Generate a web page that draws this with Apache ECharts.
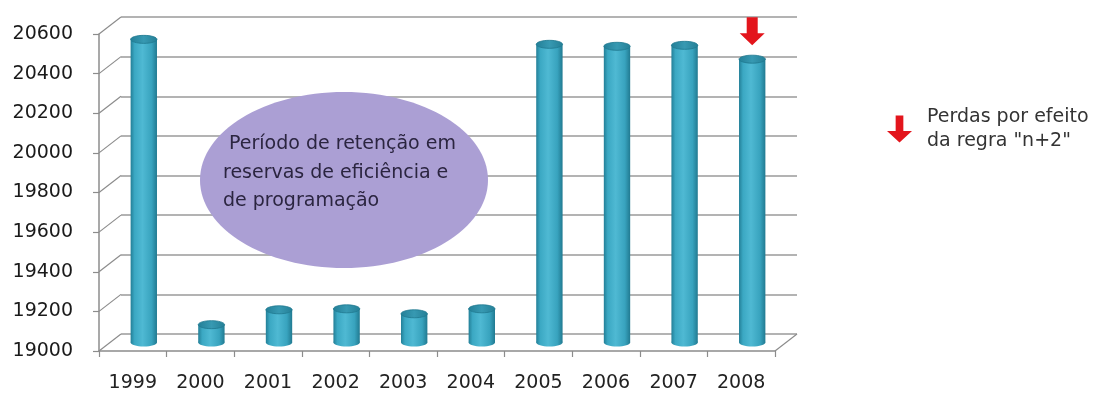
<!DOCTYPE html>
<html>
<head>
<meta charset="utf-8">
<script src="https://cdn.jsdelivr.net/npm/echarts@6/dist/echarts.min.js"></script>
<style>
  html, body { margin: 0; padding: 0; background: #ffffff; }
  #chart { width: 1097px; height: 399px; }
</style>
</head>
<body>
<div id="chart"></div>
<script>
// Annual values (thousands) with the retention period 2000-2004
const years = ['1999', '2000', '2001', '2002', '2003', '2004', '2005', '2006', '2007', '2008'];
const values = [20530, 19090, 19165, 19170, 19145, 19170, 20505, 20495, 20500, 20430];
const yTicks = [19000, 19200, 19400, 19600, 19800, 20000, 20200, 20400, 20600];
const lossYear = '2008';
const lossName = 'Perdas por efeito\nda regra "n+2"';
const noteText = ' Período de retenção em\nreservas de eficiência e\nde programação';

const Y_MIN = 19000, Y_MAX = 20600, Y_STEP = 200;

// Front plane of the pseudo-3D box, and its depth offset
const FRONT = { left: 99, top: 34, width: 676, height: 317 };
const DEPTH_X = 22, DEPTH_Y = 17;
const shifted = (f) => ({
  left: FRONT.left + DEPTH_X * f,
  top: FRONT.top - DEPTH_Y * f,
  width: FRONT.width,
  height: FRONT.height
});
const BACK = shifted(1);
const MID = shifted(0.5);

const FONT = 'DejaVu Sans';
const AXIS_GREY = '#8c8c8c';
const GRID_GREY = '#9a9a9a';

const chart = echarts.init(document.getElementById('chart'), null, { renderer: 'canvas' });

const valueAxis = (gridIndex, extra) => Object.assign({
  type: 'value', gridIndex, min: Y_MIN, max: Y_MAX, interval: Y_STEP
}, extra);

const catAxis = (gridIndex, extra) => Object.assign({
  type: 'category', gridIndex, data: years
}, extra);

// Cylinder body gradient (left dark edge, highlight, right dark edge)
const bodyFill = {
  type: 'linear', x: 0, y: 0, x2: 1, y2: 0,
  colorStops: [
    { offset: 0, color: '#237f97' },
    { offset: 0.15, color: '#3ba8c3' },
    { offset: 0.45, color: '#4fb9d3' },
    { offset: 0.8, color: '#38a3be' },
    { offset: 1, color: '#217a91' }
  ]
};
const capFill = {
  type: 'linear', x: 0, y: 0, x2: 1, y2: 0,
  colorStops: [
    { offset: 0, color: '#237f97' },
    { offset: 0.5, color: '#3799b2' },
    { offset: 1, color: '#247f96' }
  ]
};

function renderCylinder(params, api) {
  const idx = api.value(0);
  const top = api.coord([idx, api.value(1)]);
  const base = api.coord([idx, Y_MIN]);
  const w = api.size([1, 0])[0] * 0.39;
  const rx = w / 2, ry = 4;
  return {
    type: 'group',
    children: [
      { type: 'ellipse', shape: { cx: top[0], cy: base[1], rx, ry }, style: { fill: bodyFill } },
      { type: 'rect', shape: { x: top[0] - rx, y: top[1], width: w, height: base[1] - top[1] }, style: { fill: bodyFill } },
      { type: 'ellipse', shape: { cx: top[0], cy: top[1], rx, ry }, style: { fill: capFill, stroke: '#20788f', lineWidth: 0.8 } }
    ]
  };
}

// Side-wall diagonals from each front tick to the back wall, plus the floor's right edge
function renderFrame(params, api) {
  const cs = params.coordSys;
  const v = api.value(0);
  const y = api.coord([0, v])[1];
  const children = [{
    type: 'line',
    shape: { x1: cs.x, y1: y, x2: cs.x + DEPTH_X, y2: y - DEPTH_Y },
    style: { stroke: AXIS_GREY, lineWidth: 1.2 }
  }];
  if (v === Y_MIN) {
    const xr = cs.x + cs.width;
    children.push({
      type: 'line',
      shape: { x1: xr, y1: y, x2: xr + DEPTH_X, y2: y - DEPTH_Y },
      style: { stroke: AXIS_GREY, lineWidth: 1.2 }
    });
  }
  return { type: 'group', children };
}

// Red down arrow above the bar affected by the n+2 rule
function renderArrow(params, api) {
  const top = api.coord([api.value(0), api.value(1)]);
  const cx = top[0];
  const tipY = top[1] - 14;
  const h = 28, headH = 12, shaftW = 11, headW = 25;
  const y0 = tipY - h, yh = tipY - headH;
  return {
    type: 'polygon',
    shape: {
      points: [
        [cx - shaftW / 2, y0], [cx + shaftW / 2, y0], [cx + shaftW / 2, yh],
        [cx + headW / 2, yh], [cx, tipY], [cx - headW / 2, yh], [cx - shaftW / 2, yh]
      ]
    },
    style: { fill: api.visual('color') }
  };
}

const option = {
  backgroundColor: '#ffffff',
  animation: false,
  textStyle: { fontFamily: FONT },
  grid: [
    Object.assign({ containLabel: false }, FRONT),
    Object.assign({ containLabel: false }, BACK),
    Object.assign({ containLabel: false }, MID)
  ],
  legend: {
    orient: 'vertical',
    left: 882,
    top: 100,
    data: [lossName],
    icon: 'path://M9,0 L17,0 L17,16 L26,16 L13,28 L0,16 L9,16 Z',
    itemWidth: 25,
    itemHeight: 28,
    selectedMode: false,
    textStyle: { fontFamily: FONT, fontSize: 19, color: '#333333', lineHeight: 24, padding: [0, 0, 0, 10] }
  },
  xAxis: [
    catAxis(0, {
      axisLine: { show: true, lineStyle: { color: AXIS_GREY, width: 1.5 } },
      axisTick: { show: true, length: 6, lineStyle: { color: AXIS_GREY, width: 1.2 } },
      axisLabel: { fontFamily: FONT, fontSize: 19, color: '#222222', margin: 23 },
      splitLine: { show: false }
    }),
    catAxis(1, { show: false }),
    catAxis(2, { show: false })
  ],
  yAxis: [
    valueAxis(0, {
      axisLine: { show: true, lineStyle: { color: AXIS_GREY, width: 1.5 } },
      axisTick: { show: true, length: 6, lineStyle: { color: AXIS_GREY, width: 1.2 } },
      axisLabel: {
        fontFamily: FONT, fontSize: 19, color: '#1a1a1a', margin: 26,
        formatter: (v) => String(v)
      },
      splitLine: { show: false }
    }),
    valueAxis(1, {
      axisLine: { show: false },
      axisTick: { show: false },
      axisLabel: { show: false },
      splitLine: { show: true, lineStyle: { color: GRID_GREY, width: 1.5 } }
    }),
    valueAxis(2, { show: false })
  ],
  series: [
    {
      type: 'custom',
      name: 'frame',
      xAxisIndex: 0, yAxisIndex: 0,
      renderItem: renderFrame,
      data: yTicks.map(v => [v]),
      encode: { y: 0 },
      silent: true,
      z: 1
    },
    {
      type: 'custom',
      name: 'valores',
      xAxisIndex: 2, yAxisIndex: 2,
      renderItem: renderCylinder,
      data: values.map((v, i) => [i, v]),
      encode: { x: 0, y: 1 },
      z: 3
    },
    {
      type: 'custom',
      name: lossName,
      xAxisIndex: 2, yAxisIndex: 2,
      renderItem: renderArrow,
      itemStyle: { color: '#e3151c' },
      data: [[years.indexOf(lossYear), values[years.indexOf(lossYear)]]],
      encode: { x: 0, y: 1 },
      z: 4
    }
  ],
  graphic: [
    {
      type: 'ellipse',
      shape: { cx: 344, cy: 180, rx: 144, ry: 88 },
      style: { fill: '#ab9fd4' },
      z: 5
    },
    {
      type: 'text',
      left: 223,
      top: 130,
      style: {
        text: noteText,
        fontFamily: FONT,
        fontSize: 19,
        lineHeight: 28.5,
        fill: '#2b2540'
      },
      z: 6
    }
  ]
};

chart.setOption(option);
</script>
</body>
</html>
